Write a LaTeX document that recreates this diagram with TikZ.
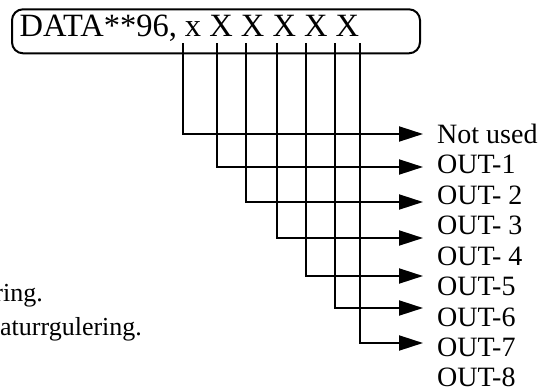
\documentclass[tikz,border=0pt]{standalone}
\usepackage{fontspec}
\setmainfont{Liberation Serif}
\usetikzlibrary{arrows.meta}
\begin{document}
\begin{tikzpicture}[x=1pt,y=-1pt,
  wire/.style={line width=2pt},
  arr/.style={wire,-{Triangle[length=24pt,width=15pt]}},
  lbl/.style={anchor=base west,inner sep=0pt,font=\fontsize{28}{30}\selectfont},
  side/.style={inner sep=0pt,font=\fontsize{26}{28}\selectfont}]
\useasboundingbox (0,0) rectangle (544,391);
% box
\node[draw,line width=2pt,rounded corners=11pt,minimum width=408pt,minimum height=44pt,inner sep=0pt] (box) at (216,31.3) {};
\node[anchor=base west,inner sep=0pt,font=\fontsize{32.5}{34}\selectfont] (data) at (19.5,36.7) {DATA**96, x X X X X X};
% start points
\foreach \i/\x in {1/183,2/217,3/246,4/277,5/306,6/335,7/360}
  \coordinate (s\i) at (\x,43);
% end points
\foreach \i/\y in {1/134,2/167,3/202,4/238,5/276,6/308,7/343}
  \coordinate (e\i) at (423,\y);
\foreach \i in {1,...,7}
  \draw[arr] (s\i) |- (e\i);
% labels
\node[lbl] (l0) at (437,143) {Not used};
\node[lbl] (l1) at (437,173.5) {OUT-1};
\node[lbl] (l2) at (437,204) {OUT- 2};
\node[lbl] (l3) at (437,234.5) {OUT- 3};
\node[lbl] (l4) at (437,265) {OUT- 4};
\node[lbl] (l5) at (437,295.5) {OUT-5};
\node[lbl] (l6) at (437,326) {OUT-6};
\node[lbl] (l7) at (437,356.5) {OUT-7};
\node[lbl] (l8) at (437,386.5) {OUT-8};
% clipped side notes
\node[side,anchor=base east] (n1) at (43,301) {ring.};
\node[side,anchor=base west] (n2) at (0,335) {aturrgulering.};
\end{tikzpicture}
\end{document}
